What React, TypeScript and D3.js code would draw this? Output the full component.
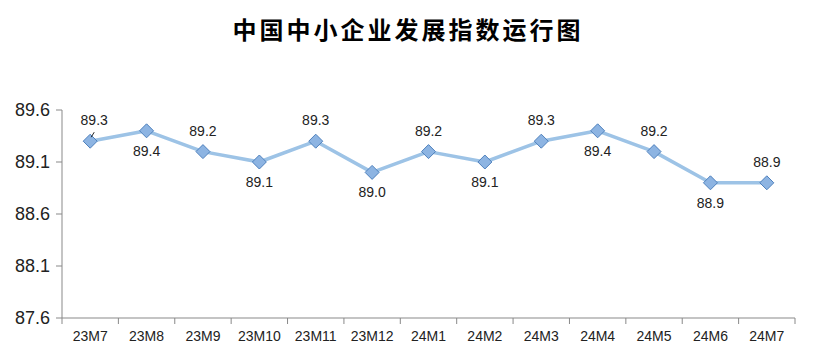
import React from "react";
import * as d3 from "d3";

const categories = ["23M7","23M8","23M9","23M10","23M11","23M12","24M1","24M2","24M3","24M4","24M5","24M6","24M7"];
const values = [89.3, 89.4, 89.2, 89.1, 89.3, 89.0, 89.2, 89.1, 89.3, 89.4, 89.2, 88.9, 88.9];
const labelAbove = [true, false, true, false, true, false, true, false, true, false, true, false, true];
const yTicks = [87.6, 88.1, 88.6, 89.1, 89.6];
const title = "中国中小企业发展指数运行图";

export default function App() {
  const W = 814, H = 355;
  const left = 62, right = 795, top = 110, bottom = 318;
  const x = d3.scaleBand<string>().domain(categories).range([left, right]);
  const y = d3.scaleLinear().domain([87.6, 89.6]).range([bottom, top]);
  const cx = (c: string) => (x(c) as number) + x.bandwidth() / 2;
  const line = d3.line<number>().x((_, i) => cx(categories[i])).y(d => y(d));
  const axisColor = "#898989";
  const font = "'Liberation Sans', Arial, sans-serif";
  const boundaries = categories.map(c => x(c) as number).concat([right]);
  return (
    <svg width={W} height={H} style={{ position: "absolute", left: 0, top: 0, background: "#fff" }}>
      <text x={408} y={39} textAnchor="middle" fontFamily="'Noto Sans CJK SC', sans-serif" fontWeight="bold" fontSize={24} letterSpacing={3} fill="#000">{title}</text>
      {/* y axis */}
      <line x1={left} x2={left} y1={top} y2={bottom} stroke={axisColor} strokeWidth={1} />
      {yTicks.map(t => (
        <g key={t}>
          <line x1={left - 6} x2={left} y1={y(t)} y2={y(t)} stroke={axisColor} />
          <text x={50} y={y(t)} dy="0.35em" textAnchor="end" fontFamily={font} fontSize={18} fill="#222">{t.toFixed(1)}</text>
        </g>
      ))}
      {/* x axis */}
      <line x1={left} x2={right} y1={bottom} y2={bottom} stroke={axisColor} strokeWidth={1} />
      {boundaries.map((b, i) => (
        <line key={i} x1={b} x2={b} y1={bottom} y2={bottom + 6} stroke={axisColor} />
      ))}
      {categories.map(c => (
        <text key={c} x={cx(c)} y={341} textAnchor="middle" fontFamily={font} fontSize={14} fill="#222">{c}</text>
      ))}
      {/* line */}
      <path d={line(values) || ""} fill="none" stroke="#9dc3e6" strokeWidth={3.5} strokeLinejoin="round" />
      {values.map((v, i) => {
        const px = cx(categories[i]), py = y(v), r = 7;
        return (
          <path key={i} d={`M${px},${py - r}L${px + r},${py}L${px},${py + r}L${px - r},${py}Z`} fill="#8db4e2" stroke="#4f81bd" strokeWidth={1} />
        );
      })}
      {/* leader line for first label */}
      <line x1={cx(categories[0]) + 1} y1={y(values[0]) - 4} x2={cx(categories[0]) + 4} y2={y(values[0]) - 9} stroke="#222" strokeWidth={1} />
      {values.map((v, i) => {
        const px = cx(categories[i]) + (i === 0 ? 4 : 0), py = y(v);
        return (
          <text key={i} x={px} y={labelAbove[i] ? py - 16 : py + 25} textAnchor="middle" fontFamily={font} fontSize={14} fill="#222">{v.toFixed(1)}</text>
        );
      })}
    </svg>
  );
}
